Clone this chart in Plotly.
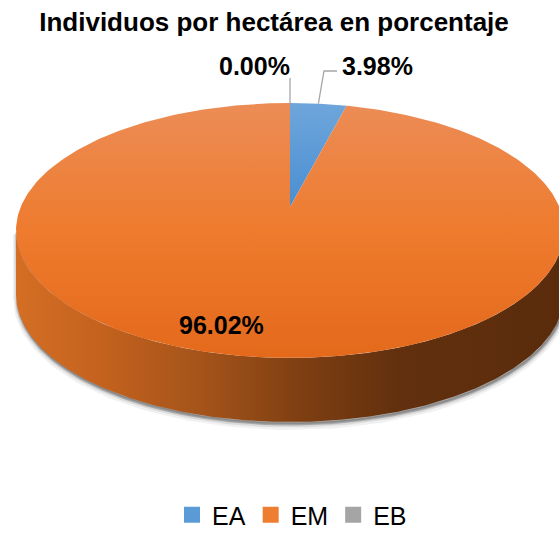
import numpy as np
import plotly.graph_objects as go

# ---------------- data ----------------
categories = ["EA", "EM", "EB"]
values = [3.98, 96.02, 0.00]
label_texts = ["3.98%", "96.02%", "0.00%"]
title_text = "Individuos por hectárea en porcentaje"

# ---------------- style / geometry (pixel space) ----------------
W, H = 559, 533
CX, CY = 290.0, 230.5       # centre of the top ellipse
RX, RY = 274.0, 127.5       # radii of the top ellipse
DEPTH = 64.0                # thickness of the 3-D disc
APEX_Y = 207.0              # projected centre of the disc (perspective)
FONT = "Liberation Sans, Arial, sans-serif"

legend_colors = ["#5B9BD5", "#ED7D31", "#A5A5A5"]
top_scales = [
    [[0, "#6EA6DB"], [0.41, "#4A8ED2"], [1, "#3A7CC0"]],
    [[0, "#EC8C56"], [0.5, "#EE7B2E"], [1, "#E4691B"]],
    [[0, "#B5B5B5"], [1, "#8F8F8F"]],
]
side_scales = [
    [[0, "#3F7FBF"], [1, "#1F4E79"]],
    [[0, "#D46E24"], [0.153, "#C4621E"], [0.336, "#A5541A"],
     [0.518, "#7F3F12"], [0.7, "#62300E"], [1, "#5A2C0C"]],
    [[0, "#8A8A8A"], [1, "#4A4A4A"]],
]

# perspective: a projective map of the circle that keeps the rim on the
# ellipse but moves the centre up to APEX_Y
t = (APEX_Y - CY) / RY
a = np.arctanh(t)
ch, sh = np.cosh(a), np.sinh(a)


def project(theta_deg):
    th = np.radians(np.asarray(theta_deg, dtype=float))
    s = np.sin(th)
    v = -np.cos(th)
    d = v * sh + ch
    return CX + RX * s / d, CY + RY * (v * ch + sh) / d


total = float(sum(values))
angles = np.concatenate([[0.0], np.cumsum(values) / total * 360.0])
front_lo = np.degrees(np.arccos(t))
front_hi = 360.0 - front_lo

fig = go.Figure()

# ---- soft shadow under the disc ----
th_front = np.linspace(front_lo, front_hi, 400)
fx, fy = project(th_front)
for off, wd, op in [(4, 8, 0.07), (3, 5, 0.12), (2, 3, 0.22)]:
    fig.add_trace(go.Scatter(
        x=list(fx + 1) + list((fx + 1)[::-1]),
        y=list(fy + off) + list((fy + DEPTH + off)[::-1]),
        mode="lines", fill="toself",
        fillcolor=f"rgba(60,60,60,{op})",
        line=dict(color=f"rgba(60,60,60,{op})", width=wd),
        showlegend=False, hoverinfo="skip"))

# ---- sides (front half only) ----
for i, cat in enumerate(categories):
    lo = max(angles[i], front_lo)
    hi = min(angles[i + 1], front_hi)
    if hi <= lo:
        continue
    th = np.linspace(lo, hi, 300)
    x, y = project(th)
    fig.add_trace(go.Scatter(
        x=list(x) + list(x[::-1]),
        y=list(y) + list((y + DEPTH)[::-1]),
        mode="lines", fill="toself", line=dict(width=0),
        fillgradient=dict(type="horizontal", colorscale=side_scales[i],
                          start=CX - RX, stop=CX + RX),
        showlegend=False, hoverinfo="skip"))

# ---- top faces ----
for i, cat in enumerate(categories):
    if values[i] <= 0:
        continue
    th = np.linspace(angles[i], angles[i + 1], 400)
    x, y = project(th)
    fig.add_trace(go.Scatter(
        x=[CX] + list(x) + [CX],
        y=[APEX_Y] + list(y) + [APEX_Y],
        mode="lines", fill="toself", line=dict(width=0),
        fillgradient=dict(type="vertical", colorscale=top_scales[i],
                          start=CY - RY, stop=CY + RY),
        showlegend=False, hoverinfo="skip"))

# ---- leader lines ----
mid = (angles[:-1] + angles[1:]) / 2.0
ax0, ay0 = project(mid[0])
fig.add_trace(go.Scatter(x=[ax0, 324, 337], y=[ay0, 71, 71], mode="lines",
                         line=dict(color="#A6A6A6", width=1.3),
                         showlegend=False, hoverinfo="skip"))
ax2, ay2 = project(mid[2])
fig.add_trace(go.Scatter(x=[ax2, ax2], y=[ay2, 78], mode="lines",
                         line=dict(color="#A6A6A6", width=1.3),
                         showlegend=False, hoverinfo="skip"))

# ---- data labels ----
label_pos = [(377, 66), (221, 325), (254, 66)]
for txt, (lx, ly) in zip(label_texts, label_pos):
    fig.add_annotation(x=lx, y=ly, xref="x", yref="y", text=txt,
                       showarrow=False, xanchor="center", yanchor="middle",
                       font=dict(family=FONT, size=25, color="black",
                                 weight="bold"))

# ---- legend entries ----
for cat, col in zip(categories, legend_colors):
    fig.add_trace(go.Scatter(x=[None], y=[None], mode="markers", name=cat,
                             marker=dict(symbol="square", size=16, color=col)))

fig.update_layout(
    width=W, height=H,
    margin=dict(l=0, r=0, t=0, b=0, autoexpand=False),
    paper_bgcolor="white", plot_bgcolor="white",
    hovermode=False,
    title=dict(text=title_text, x=274 / W, xanchor="center",
               y=1 - 22 / H, yanchor="middle",
               font=dict(family=FONT, size=26, color="black", weight="bold")),
    xaxis=dict(range=[0, W], visible=False, fixedrange=True),
    yaxis=dict(range=[H, 0], visible=False, fixedrange=True),
    legend=dict(orientation="h", x=292 / W, xanchor="center",
                y=18 / H, yanchor="middle",
                font=dict(family=FONT, size=25, color="black"),
                itemwidth=30, bgcolor="rgba(0,0,0,0)"),
)

fig.write_html("out.html", config={"displayModeBar": False},
               post_script="document.body.style.margin='0';document.body.style.overflow='hidden';")
